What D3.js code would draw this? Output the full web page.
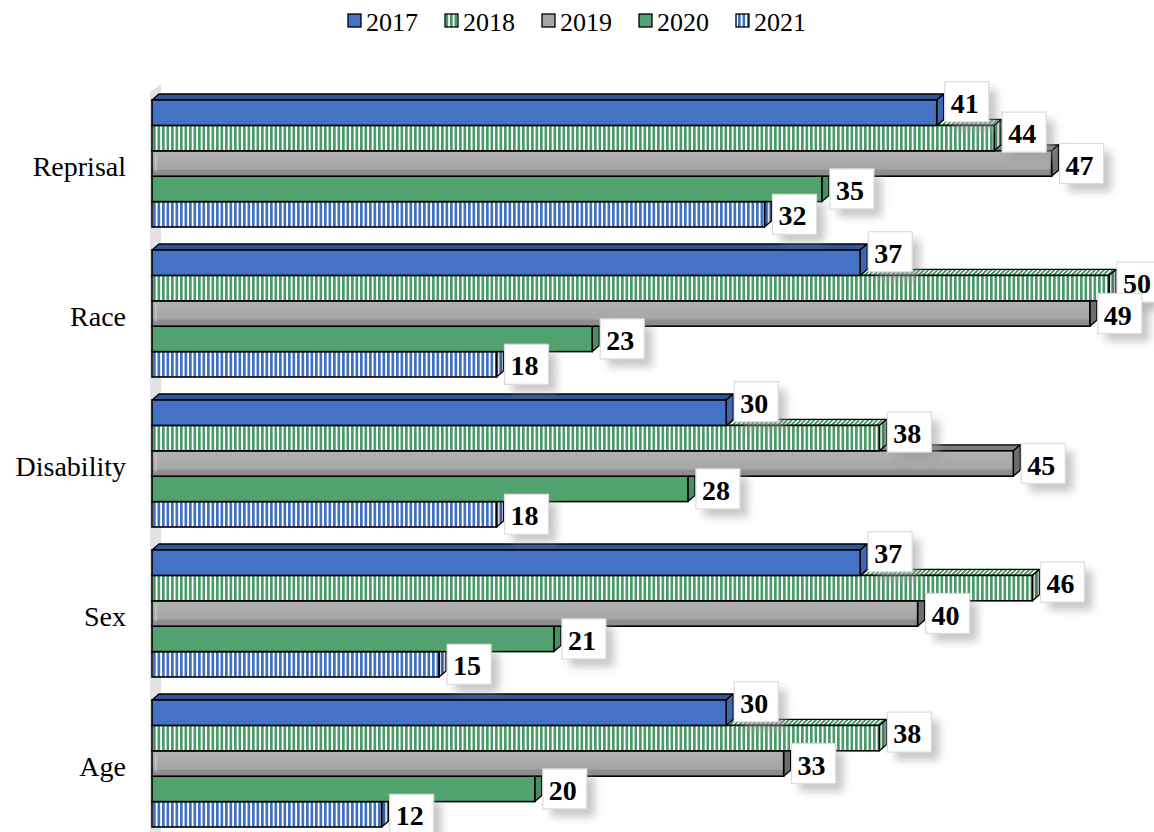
<!DOCTYPE html>
<html><head><meta charset="utf-8">
<script src="https://cdn.jsdelivr.net/npm/d3@7"></script>
<style>body{margin:0;background:#fff}</style></head>
<body><svg id="c" width="1154" height="832"></svg>
<script>
const categories = ["Reprisal", "Race", "Disability", "Sex", "Age"];
const seriesNames = ["2017", "2018", "2019", "2020", "2021"];
const v2017 = [41, 37, 30, 37, 30];
const v2018 = [44, 50, 38, 46, 38];
const v2019 = [47, 49, 45, 40, 33];
const v2020 = [35, 23, 28, 21, 20];
const v2021 = [32, 18, 18, 15, 12];
const seriesValues = [v2017, v2018, v2019, v2020, v2021];

const svg = d3.select("#c");
const defs = svg.append("defs");
const FONT = "'Liberation Serif','Times New Roman',serif";

function stripes(id, color, transform) {
  const p = defs.append("pattern").attr("id", id).attr("patternUnits", "userSpaceOnUse")
    .attr("width", 4.5).attr("height", 10);
  if (transform) p.attr("patternTransform", transform);
  p.append("rect").attr("width", 4.5).attr("height", 10).attr("fill", "#fff");
  p.append("rect").attr("width", 2.7).attr("height", 10).attr("fill", color);
}
stripes("gS", "#4a9a68");
stripes("bS", "#4070c4");
stripes("gT", "#4a9a68", "skewX(-45)");
stripes("bT", "#4070c4", "skewX(-45)");
const gg = defs.append("linearGradient").attr("id", "grayG").attr("x1", 0).attr("y1", 0).attr("x2", 0).attr("y2", 1);
gg.append("stop").attr("offset", "0").attr("stop-color", "#b2b2b2");
gg.append("stop").attr("offset", "0.7").attr("stop-color", "#a6a6a6");
gg.append("stop").attr("offset", "0.78").attr("stop-color", "#8e8e8e");
gg.append("stop").attr("offset", "1").attr("stop-color", "#8a8a8a");
const f = defs.append("filter").attr("id", "blur").attr("x", "-50%").attr("y", "-50%").attr("width", "200%").attr("height", "200%");
f.append("feGaussianBlur").attr("stdDeviation", 4);

const styles = [
  { front: "#4472C4", top: "#2F5597", side: "#3d67b3" },
  { front: "url(#gS)", top: "url(#gT)", side: "url(#gS)" },
  { front: "url(#grayG)", top: "#7c7c7c", side: "#6e6e6e" },
  { front: "#52A26F", top: "#3f8a5a", side: "#468f60" },
  { front: "url(#bS)", top: "url(#bT)", side: "url(#bS)" }
];
const legendFill = ["#4472C4", "url(#gS)", "#a6a6a6", "#52A26F", "url(#bS)"];

const x = d3.scaleLinear().domain([0, 50]).range([152, 1109]);
const y = d3.scaleBand().domain(categories).range([100, 827]).paddingInner(23 / 150).paddingOuter(0);
const ys = d3.scaleBand().domain(seriesNames).range([0, y.bandwidth()]);
const DX = 7, DY = 6;

// left wall shadow
svg.append("path")
  .attr("d", `M150,92 L161,84 L161,832 L150,832 Z`)
  .attr("fill", "#e2e2e2");

const barsG = svg.append("g");
categories.forEach((cat, ci) => {
  for (let si = seriesNames.length - 1; si >= 0; si--) {
    const v = seriesValues[si][ci];
    const y0 = y(cat) + ys(seriesNames[si]);
    const h = ys.bandwidth();
    const x0 = x(0), x1 = x(v);
    const st = styles[si];
    const g = barsG.append("g");
    g.append("path").attr("d", `M${x0},${y0} L${x0 + DX},${y0 - DY} L${x1 + DX},${y0 - DY} L${x1},${y0} Z`)
      .attr("fill", st.top).attr("stroke", "#000").attr("stroke-width", 1.3).attr("stroke-linejoin", "round");
    g.append("path").attr("d", `M${x1},${y0} L${x1 + DX},${y0 - DY} L${x1 + DX},${y0 + h - DY} L${x1},${y0 + h} Z`)
      .attr("fill", st.side).attr("stroke", "#000").attr("stroke-width", 1.3).attr("stroke-linejoin", "round");
    if (si === 1 || si === 4) {
      g.append("path").attr("d", `M${x1},${y0} L${x1 + DX},${y0 - DY} L${x1 + DX},${y0 + h - DY} L${x1},${y0 + h} Z`)
        .attr("fill", "#000").attr("opacity", 0.15);
    }
    g.append("rect").attr("x", x0).attr("y", y0).attr("width", x1 - x0).attr("height", h)
      .attr("fill", st.front).attr("stroke", "#000").attr("stroke-width", 1.6);
    if (si === 2) {
      g.append("line").attr("x1", x0 + 4).attr("x2", x0 + 4).attr("y1", y0 + 3).attr("y2", y0 + h - 5)
        .attr("stroke", "#c4c4c4").attr("stroke-width", 1.5);
    }
  }
});

svg.append("g").selectAll("text").data(categories).join("text")
  .attr("x", 126).attr("y", d => y(d) + y.bandwidth() / 2 + 12.5)
  .attr("text-anchor", "end").attr("font-family", FONT).attr("font-size", 28).attr("fill", "#000")
  .text(d => d);

const labelShift = [0, 5, 11, 11, 11];
const shadowG = svg.append("g");
const boxG = svg.append("g");
categories.forEach((cat, ci) => {
  seriesNames.forEach((s, si) => {
    const v = seriesValues[si][ci];
    const cy = y(cat) + ys(s) + ys.bandwidth() / 2;
    const base = cy + labelShift[si];
    const bx = x(v) + DX + 1;
    const bw = 44, bh = 40, by = base - 31;
    shadowG.append("rect").attr("x", bx + 8).attr("y", by + 8).attr("width", bw).attr("height", bh)
      .attr("fill", "#9a9a9a").attr("opacity", 0.55).attr("filter", "url(#blur)");
    boxG.append("rect").attr("x", bx).attr("y", by).attr("width", bw).attr("height", bh)
      .attr("fill", "#fff").attr("stroke", "#dcdcdc").attr("stroke-width", 1.2);
    boxG.append("text").attr("x", bx + 6).attr("y", base)
      .attr("font-family", FONT).attr("font-weight", "bold").attr("font-size", 28).attr("fill", "#000")
      .text(v);
  });
});

const leg = svg.append("g");
const itemW = 13 + 5 + 52, gap = 27;
const total = seriesNames.length * itemW + (seriesNames.length - 1) * gap;
const lx0 = 577 - total / 2;
seriesNames.forEach((s, i) => {
  const gx = lx0 + i * (itemW + gap);
  leg.append("rect").attr("x", gx).attr("y", 14).attr("width", 13).attr("height", 13)
    .attr("fill", legendFill[i]).attr("stroke", "#000").attr("stroke-width", 1.3);
  leg.append("text").attr("x", gx + 18).attr("y", 31).attr("font-family", FONT).attr("font-size", 26)
    .attr("fill", "#000").text(s);
});
</script>
</body></html>
